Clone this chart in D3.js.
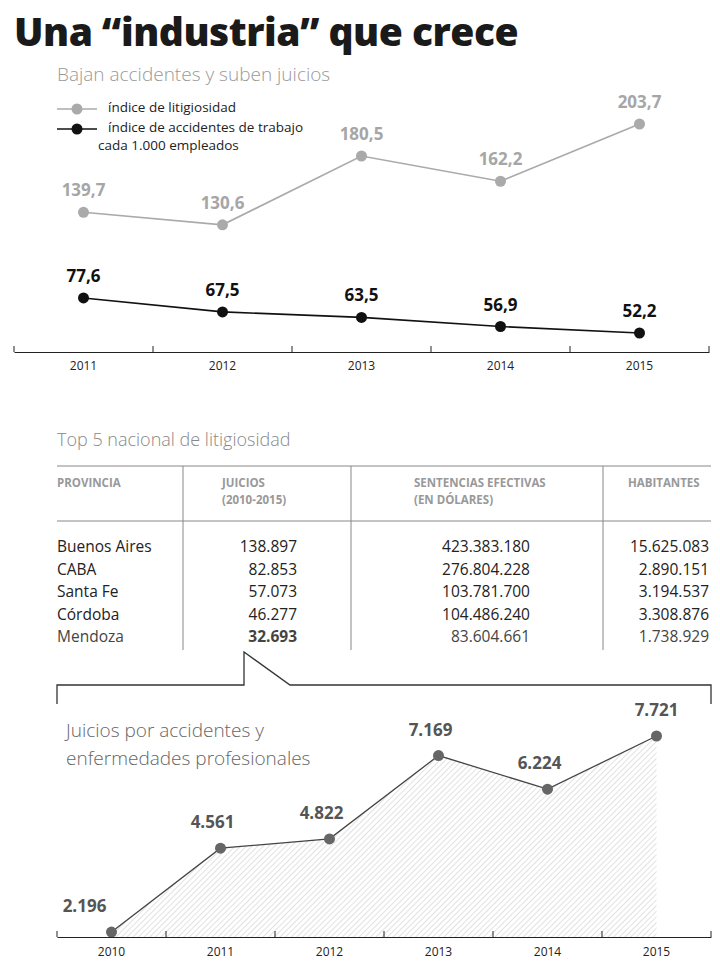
<!DOCTYPE html>
<html><head><meta charset="utf-8">
<script src="https://cdn.jsdelivr.net/npm/d3@7"></script>
<style>body{margin:0;background:#fff}text{font-family:"Open Sans",sans-serif}</style>
</head><body><svg id="c" width="720" height="966"></svg>
<script>
var years = ["2011", "2012", "2013", "2014", "2015"],
    litigiosidad = [139.7, 130.6, 180.5, 162.2, 203.7],
    accidentes = [77.6, 67.5, 63.5, 56.9, 52.2];

var provincias = ["Buenos Aires", "CABA", "Santa Fe", "Córdoba", "Mendoza"],
    juicios = ["138.897", "82.853", "57.073", "46.277", "32.693"],
    sentencias = ["423.383.180", "276.804.228", "103.781.700", "104.486.240", "83.604.661"],
    habitantes = ["15.625.083", "2.890.151", "3.194.537", "3.308.876", "1.738.929"];

var years2 = ["2010", "2011", "2012", "2013", "2014", "2015"],
    juiciosAnual = [2196, 4561, 4822, 7169, 6224, 7721];

var svg = d3.select("#c");
var fmt1 = d => d.toFixed(1).replace(".", ",");
var fmtK = d => d3.format(",")(d).replace(/,/g, ".");

// titles
svg.append("text").attr("x", 14).attr("y", 46).attr("font-size", 39).attr("font-weight", 800)
  .attr("fill", "#1a1a1a").attr("letter-spacing", -0.5).text("Una “industria” que crece");
svg.append("text").attr("x", 57).attr("y", 81).attr("font-size", 19).attr("font-weight", 300)
  .attr("fill", "#999").text("Bajan accidentes y suben juicios");

// legend
[["#aaa", 109, "índice de litigiosidad"], ["#111", 129, "índice de accidentes de trabajo"]].forEach(l => {
  svg.append("line").attr("x1", 57).attr("x2", 97).attr("y1", l[1]).attr("y2", l[1]).attr("stroke", l[0]).attr("stroke-width", 1.5);
  svg.append("circle").attr("cx", 77).attr("cy", l[1]).attr("r", 5.5).attr("fill", l[0]);
  svg.append("text").attr("x", 108).attr("y", l[1] + 3).attr("font-size", 13.5).attr("fill", "#222").text(l[2]);
});
svg.append("text").attr("x", 98).attr("y", 150).attr("font-size", 13.5).attr("fill", "#222").text("cada 1.000 empleados");

// top chart
var x1 = d3.scaleBand().domain(years).range([14, 709]);
var y1 = d3.scaleLinear().domain([0, 203.7]).range([405, 124]);
svg.append("g").attr("transform", "translate(0,352)")
  .call(d3.axisBottom(x1).tickSize(0).tickPadding(9))
  .call(g => g.select(".domain").attr("stroke", "#222"))
  .call(g => g.selectAll("text").attr("font-size", 12).attr("fill", "#222").attr("font-family", "Open Sans"));
svg.append("g").selectAll("line").data(d3.range(years.length + 1)).join("line")
  .attr("x1", i => 14 + i * x1.step()).attr("x2", i => 14 + i * x1.step())
  .attr("y1", 346).attr("y2", 352).attr("stroke", "#222");

function series(vals, color, lcolor) {
  var cx = (d, i) => x1(years[i]) + x1.bandwidth() / 2;
  svg.append("path").datum(vals).attr("fill", "none").attr("stroke", color).attr("stroke-width", 1.6)
    .attr("d", d3.line().x(cx).y(d => y1(d)));
  svg.append("g").selectAll("circle").data(vals).join("circle")
    .attr("cx", cx).attr("cy", d => y1(d)).attr("r", 5.5).attr("fill", color);
  svg.append("g").selectAll("text").data(vals).join("text")
    .attr("x", cx).attr("y", d => y1(d) - 16).attr("text-anchor", "middle")
    .attr("font-size", 17).attr("font-weight", 700).attr("fill", lcolor).text(fmt1);
}
series(litigiosidad, "#aaa", "#a6a6a6");
series(accidentes, "#111", "#111");

// table
svg.append("text").attr("x", 57).attr("y", 446).attr("font-size", 18).attr("font-weight", 300)
  .attr("fill", "#888").text("Top 5 nacional de litigiosidad");
svg.append("line").attr("x1", 57).attr("x2", 711).attr("y1", 466).attr("y2", 466).attr("stroke", "#888");
svg.append("line").attr("x1", 57).attr("x2", 711).attr("y1", 521).attr("y2", 521).attr("stroke", "#888");
[183, 351, 603].forEach(cx => svg.append("line").attr("x1", cx).attr("x2", cx).attr("y1", 466).attr("y2", 650).attr("stroke", "#888"));
var headers = [[57, ["PROVINCIA"]], [222, ["JUICIOS", "(2010-2015)"]], [414, ["SENTENCIAS EFECTIVAS", "(EN DÓLARES)"]], [628, ["HABITANTES"]]];
headers.forEach(h => h[1].forEach((t, j) => svg.append("text").attr("x", h[0]).attr("y", 487 + j * 17)
  .attr("font-size", 11.5).attr("font-weight", 700).attr("fill", "#999").text(t)));
var rowY = i => 552 + i * 22.5;
var cols = [[57, "start", provincias], [297, "end", juicios], [530, "end", sentencias], [709, "end", habitantes]];
cols.forEach((c, k) => svg.append("g").selectAll("text").data(c[2]).join("text")
  .attr("x", c[0]).attr("y", (d, i) => rowY(i)).attr("text-anchor", c[1]).attr("font-size", 15.5)
  .attr("fill", (d, i) => i == 4 ? "#444" : "#222")
  .attr("font-weight", (d, i) => i == 4 && k == 1 ? 700 : 400).text(d => d));

// callout box
svg.append("path").attr("fill", "none").attr("stroke", "#333").attr("stroke-width", 1.3)
  .attr("d", "M57,704V685H244V652L290,685H711V704");

// bottom chart
svg.append("text").attr("font-size", 19).attr("font-weight", 300).attr("fill", "#666")
  .selectAll("tspan").data(["Juicios por accidentes y", "enfermedades profesionales"]).join("tspan")
  .attr("x", 66).attr("y", (d, i) => 737 + i * 28).text(d => d);

var x2 = d3.scaleBand().domain(years2).range([57, 711]);
var y2 = d3.scaleLinear().domain([0, 7721]).range([1010, 736]);
var cx2 = (d, i) => x2(years2[i]) + x2.bandwidth() / 2;

var defs = svg.append("defs");
defs.append("pattern").attr("id", "hatch").attr("width", 4).attr("height", 4)
  .attr("patternUnits", "userSpaceOnUse").attr("patternTransform", "rotate(45)")
  .append("line").attr("x1", 0).attr("x2", 0).attr("y1", 0).attr("y2", 4).attr("stroke", "#ccc").attr("stroke-width", 1.2);
svg.append("path").datum(juiciosAnual).attr("fill", "url(#hatch)")
  .attr("d", d3.area().x(cx2).y0(937).y1(d => y2(d)));
svg.append("path").datum(juiciosAnual).attr("fill", "none").attr("stroke", "#444").attr("stroke-width", 1.3)
  .attr("d", d3.line().x(cx2).y(d => y2(d)));
svg.append("g").selectAll("circle").data(juiciosAnual).join("circle")
  .attr("cx", cx2).attr("cy", d => y2(d)).attr("r", 5.5).attr("fill", "#666");
svg.append("g").selectAll("text").data(juiciosAnual).join("text")
  .attr("x", (d, i) => cx2(d, i) - (i == 0 ? 27 : i == 5 ? 0 : 8)).attr("y", d => y2(d) - 20).attr("text-anchor", "middle")
  .attr("font-size", 17).attr("font-weight", 700).attr("fill", "#555").text(fmtK);

svg.append("g").attr("transform", "translate(0,937)")
  .call(d3.axisBottom(x2).tickSize(0).tickPadding(10))
  .call(g => g.select(".domain").attr("stroke", "#222"))
  .call(g => g.selectAll("text").attr("font-size", 12).attr("fill", "#222").attr("font-family", "Open Sans"));
svg.append("g").selectAll("line").data(d3.range(years2.length + 1)).join("line")
  .attr("x1", i => 57 + i * x2.step()).attr("x2", i => 57 + i * x2.step())
  .attr("y1", 931).attr("y2", 937).attr("stroke", "#222");
</script></body></html>
